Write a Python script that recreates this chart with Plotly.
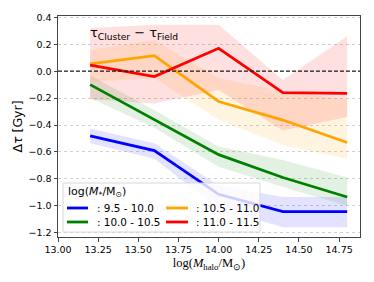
import plotly.graph_objects as go

halo_mass = [13.2, 13.6, 14.0, 14.4, 14.8]

bin_labels = [": 9.5 - 10.0", ": 10.0 - 10.5", ": 10.5 - 11.0", ": 11.0 - 11.5"]
line_colors = ["#0000ff", "#008000", "#ffa500", "#ff0000"]
band_colors = ["rgba(0,0,255,0.11)", "rgba(0,128,0,0.11)", "rgba(255,165,0,0.12)", "rgba(255,0,0,0.12)"]

delta_blue = [-0.48, -0.59, -0.915, -1.043, -1.043]
upper_blue = [-0.425, -0.535, -0.85, -0.935, -0.935]
lower_blue = [-0.535, -0.65, -1.02, -1.16, -1.16]

delta_green = [-0.10, -0.36, -0.62, -0.79, -0.935]
upper_green = [-0.03, -0.29, -0.56, -0.66, -0.79]
lower_green = [-0.20, -0.42, -0.71, -0.86, -1.0]

delta_orange = [0.055, 0.115, -0.225, -0.363, -0.53]
upper_orange = [0.16, 0.23, -0.05, -0.15, -0.21]
lower_orange = [-0.08, -0.05, -0.36, -0.55, -0.65]

delta_red = [0.045, -0.04, 0.17, -0.16, -0.165]
upper_red = [0.32, 0.345, 0.345, -0.065, 0.26]
lower_red = [-0.21, -0.24, -0.14, -0.44, -0.34]

deltas = [delta_blue, delta_green, delta_orange, delta_red]
uppers = [upper_blue, upper_green, upper_orange, upper_red]
lowers = [lower_blue, lower_green, lower_orange, lower_red]

x_ticks = [13.0, 13.25, 13.5, 13.75, 14.0, 14.25, 14.5, 14.75]
y_ticks = [0.4, 0.2, 0.0, -0.2, -0.4, -0.6, -0.8, -1.0, -1.2]

W, H = 374, 282
ML, MR, MT, MB = 58, 14, 16, 45
PW, PH = W - ML - MR, H - MT - MB


def px(x):
    return (x - ML) / PW


def py(y):
    return (H - MB - y) / PH


fig = go.Figure()

for up, lo, bc in zip(uppers, lowers, band_colors):
    fig.add_trace(go.Scatter(
        x=halo_mass + halo_mass[::-1], y=up + lo[::-1],
        fill="toself", fillcolor=bc, line=dict(width=0), mode="lines",
        showlegend=False, hoverinfo="skip"))

for d, lab, lc in zip(deltas, bin_labels, line_colors):
    fig.add_trace(go.Scatter(
        x=halo_mass, y=d, mode="lines", name=lab,
        line=dict(color=lc, width=2.8), showlegend=False))

fig.add_shape(type="line", xref="paper", x0=0, x1=1, yref="y", y0=0, y1=0,
              line=dict(color="#222222", width=1.2, dash="4px,2px"))

fig.add_annotation(x=13.187, y=0.28, xref="x", yref="y", xanchor="left", yanchor="middle",
                   text="τ<sub>Cluster</sub> − τ<sub>Field</sub>", showarrow=False,
                   font=dict(family="DejaVu Sans", size=13, color="black"))

# legend box (matplotlib-style, 2 columns)
fig.add_shape(type="rect", xref="paper", yref="paper",
              x0=px(63), x1=px(260), y0=py(232), y1=py(183),
              fillcolor="rgba(255,255,255,0.8)", line=dict(color="#d8d8d8", width=1),
              layer="above")
fig.add_annotation(x=px(66), y=py(192), xref="paper", yref="paper", xanchor="left",
                   yanchor="middle", showarrow=False,
                   text="log(<i>M</i><sub>*</sub>/M<sub>⊙</sub>)",
                   font=dict(family="DejaVu Sans", size=11, color="black"))
col_line_x = [(67, 88), (67, 88), (166, 188), (166, 188)]
col_text_x = [95, 95, 194, 194]
row_y = [208, 222, 208, 222]
for lab, lc, (lx0, lx1), tx, ry in zip(bin_labels, line_colors, col_line_x, col_text_x, row_y):
    fig.add_shape(type="line", xref="paper", yref="paper", x0=px(lx0), x1=px(lx1),
                  y0=py(ry), y1=py(ry), line=dict(color=lc, width=2.8), layer="above")
    fig.add_annotation(x=px(tx), y=py(ry), xref="paper", yref="paper", xanchor="left",
                       yanchor="middle", showarrow=False, text=lab,
                       font=dict(family="DejaVu Sans", size=10.4, color="black"))

axis_common = dict(showline=True, mirror=True, linecolor="#444444", linewidth=1,
                   ticks="outside", ticklen=3.5, tickcolor="#444444",
                   tickfont=dict(family="DejaVu Sans", size=9.5, color="black"))

fig.update_xaxes(range=[13.0, 14.88], tickvals=x_ticks, tickformat=".2f", showgrid=False,
                 zeroline=False,
                 title=dict(text="log(<i>M</i><sub>halo</sub>/M<sub>⊙</sub>)",
                            font=dict(family="Liberation Serif", size=12.5, color="black"),
                            standoff=4),
                 **axis_common)
fig.update_yaxes(range=[-1.232, 0.41], tickvals=y_ticks, tickformat=".1f", showgrid=True,
                 gridcolor="#d0d0d0", griddash="dot", gridwidth=1, zeroline=False,
                 title=dict(text="Δ<i>τ</i> [Gyr]",
                            font=dict(family="DejaVu Sans", size=12.5, color="black"), standoff=3),
                 **axis_common)

fig.update_layout(
    width=W, height=H,
    margin=dict(l=ML, r=MR, t=MT, b=MB, autoexpand=False),
    paper_bgcolor="white", plot_bgcolor="white",
    font=dict(family="DejaVu Sans", color="black"),
    showlegend=False,
)

fig.write_html("out.html", config={"displayModeBar": False},
               post_script="document.body.style.margin='0px';")
